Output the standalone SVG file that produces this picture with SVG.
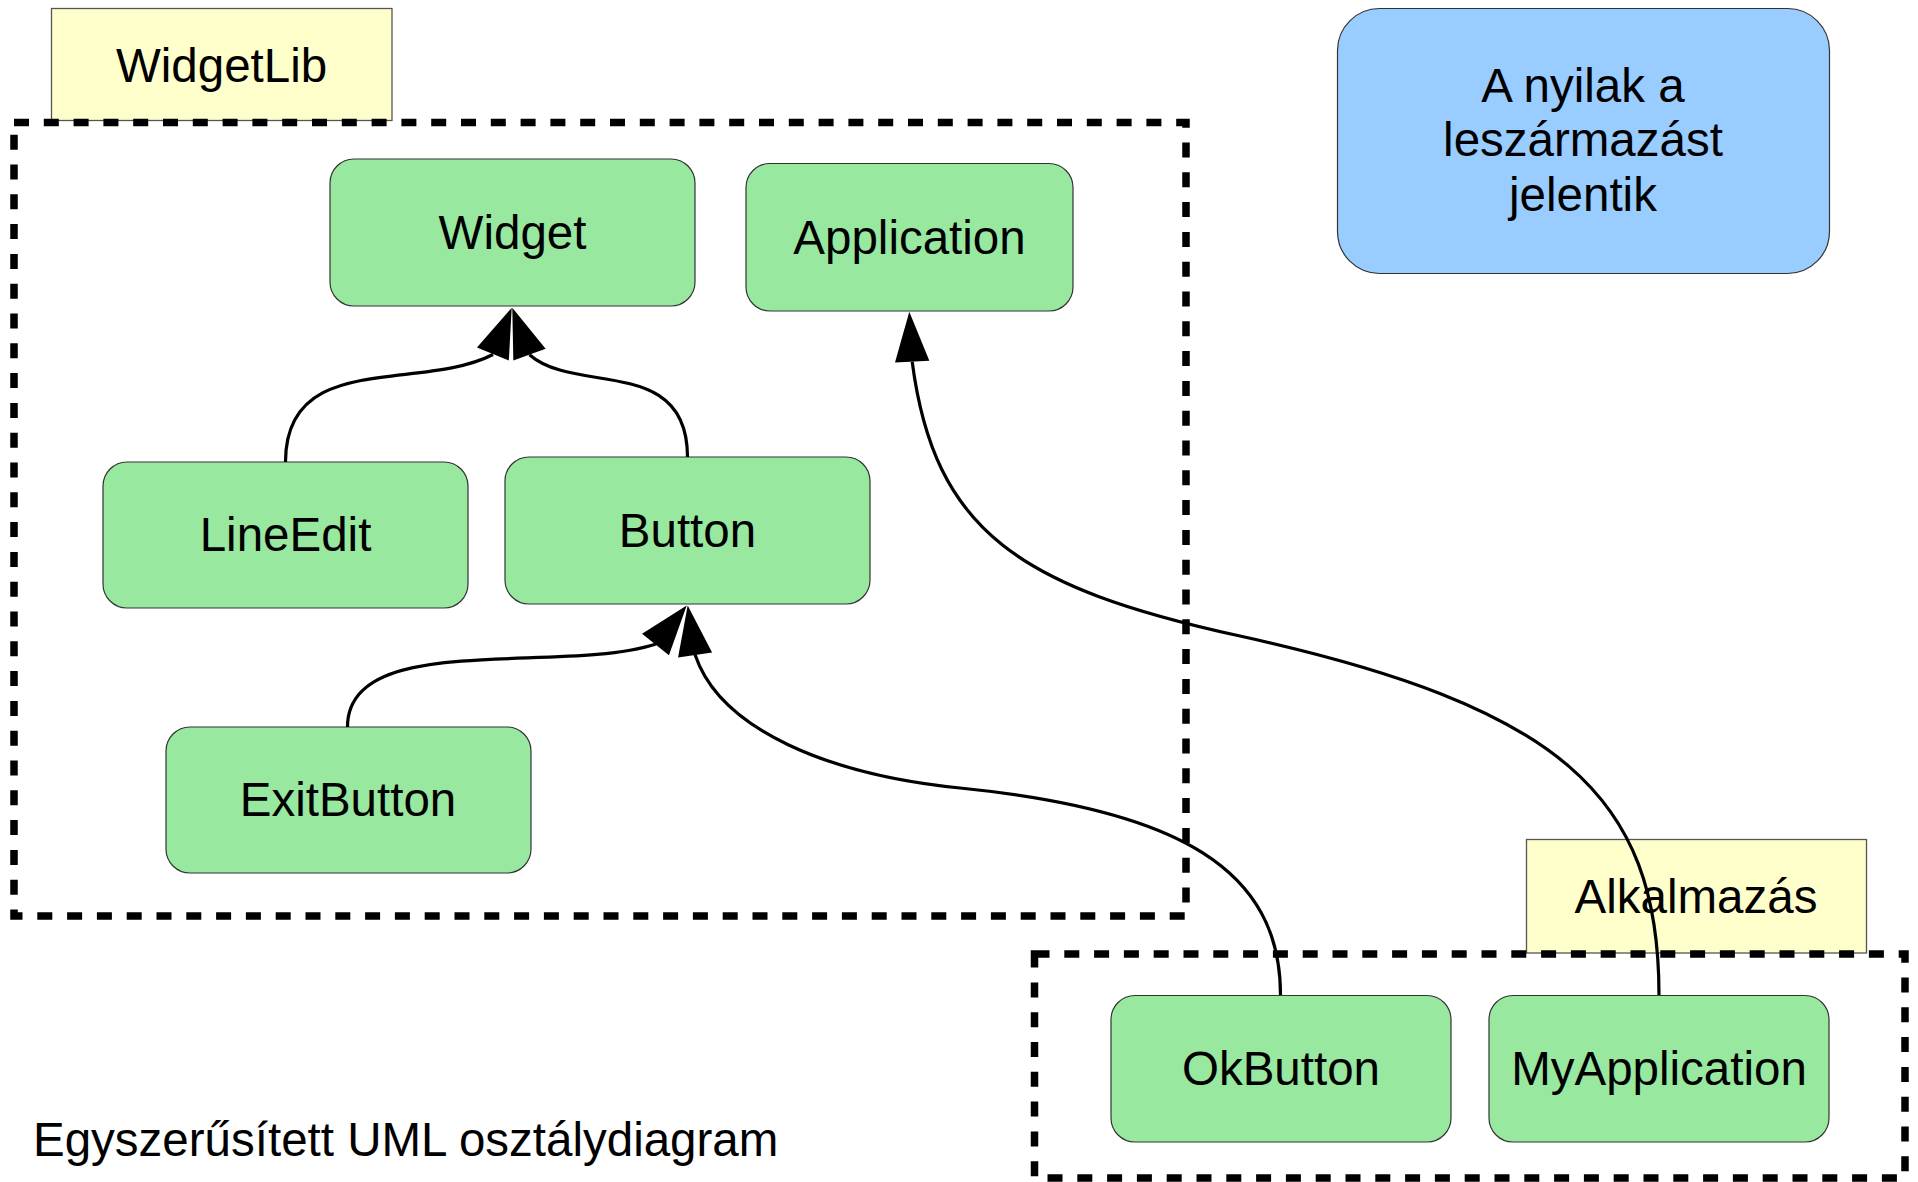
<svg xmlns="http://www.w3.org/2000/svg" xmlns:xlink="http://www.w3.org/1999/xlink" width="1918" height="1182" viewBox="0 0 1918 1182">
  <style>
    text { font-family: "Liberation Sans", Arial, sans-serif; font-size: 47.5px; fill: #000; }
    .mid { text-anchor: middle; }
    .cls { fill: #98e8a0; stroke: #333; stroke-width: 1.2; }
    .pkg { fill: #ffffcc; stroke: #555; stroke-width: 1.3; }
    .note { fill: #99ccff; stroke: #333; stroke-width: 1.2; }
    .frame { fill: none; stroke: #000; stroke-width: 7.5; stroke-dasharray: 15 14.8; }
    .edge { fill: none; stroke: #000; stroke-width: 3.2; }
    .head { fill: #000; stroke: none; }
  </style>
  <defs>
    <!-- filled generalization arrowhead, tip at origin, pointing up -->
    <path id="head" class="head" d="M0 0 L-17.2 50 L17.2 50 Z"/>
  </defs>

  <rect width="1918" height="1182" fill="#fff"/>

  <!-- package tabs -->
  <g id="pkg-widgetlib-label">
    <rect class="pkg" x="51.5" y="8.5" width="340.5" height="112"/>
    <text class="mid" x="221.6" y="81.7">WidgetLib</text>
  </g>
  <g id="pkg-alkalmazas-label">
    <rect class="pkg" x="1526.5" y="839.5" width="340" height="113.5"/>
    <text class="mid" x="1696" y="912.5">Alkalmazás</text>
  </g>

  <!-- package frames -->
  <g id="pkg-widgetlib">
    <rect class="frame" x="14" y="122.5" width="1172" height="793.5"/>
  </g>
  <g id="pkg-alkalmazas">
    <rect class="frame" x="1034.5" y="954" width="870.5" height="224"/>
  </g>

  <!-- note -->
  <g id="note">
    <rect class="note" x="1337.5" y="8.5" width="492" height="265" rx="42" ry="42"/>
    <text class="mid" x="1583" y="101.7">A nyilak a</text>
    <text class="mid" x="1583" y="156">leszármazást</text>
    <text class="mid" x="1583" y="210.7">jelentik</text>
  </g>

  <!-- classes -->
  <g id="widget">
    <rect class="cls" x="330" y="159" width="365" height="147" rx="24" ry="24"/>
    <text class="mid" x="512.5" y="249">Widget</text>
  </g>
  <g id="application">
    <rect class="cls" x="746" y="163.5" width="327" height="147.5" rx="24" ry="24"/>
    <text class="mid" x="909.5" y="254">Application</text>
  </g>
  <g id="lineedit">
    <rect class="cls" x="103" y="462" width="365" height="146" rx="24" ry="24"/>
    <text class="mid" x="285.5" y="551">LineEdit</text>
  </g>
  <g id="button">
    <rect class="cls" x="505" y="457" width="365" height="147" rx="24" ry="24"/>
    <text class="mid" x="687.5" y="547">Button</text>
  </g>
  <g id="exitbutton">
    <rect class="cls" x="166" y="727" width="365" height="146" rx="24" ry="24"/>
    <text class="mid" x="348" y="816">ExitButton</text>
  </g>
  <g id="okbutton">
    <rect class="cls" x="1111" y="995.5" width="340" height="146.5" rx="24" ry="24"/>
    <text class="mid" x="1281" y="1085">OkButton</text>
  </g>
  <g id="myapplication">
    <rect class="cls" x="1489" y="995.5" width="340" height="146.5" rx="24" ry="24"/>
    <text class="mid" x="1659" y="1085">MyApplication</text>
  </g>

  <!-- inheritance connectors -->
  <g id="connectors">
    <path class="edge" d="M285.5 462 C285.5 350 420 392 493 354.5"/>
    <use xlink:href="#head" href="#head" transform="translate(511.7 307.7) rotate(22.1)"/>

    <path class="edge" d="M687.5 457 C687.5 355 575 395 529.5 354.7"/>
    <use xlink:href="#head" href="#head" transform="translate(512.3 307.7) rotate(-20.1)"/>

    <path class="edge" d="M347.5 727 C347.5 630 560 675 656 644"/>
    <use xlink:href="#head" href="#head" transform="translate(686.7 605.5) rotate(38.6)"/>

    <path class="edge" d="M1280.5 995 C1280.5 870 1180 810 960 788 C830 775 720 730 695 654.5"/>
    <use xlink:href="#head" href="#head" transform="translate(687.7 605.5) rotate(-8.5)"/>

    <path class="edge" d="M1659 995 C1659 795 1560 706.4 1240 636 C1020 587.6 934.3 531.8 912.2 361.8"/>
    <use xlink:href="#head" href="#head" transform="translate(909.3 311.7) rotate(-3.3)"/>
  </g>

  <text id="caption" x="33" y="1156">Egyszerűsített UML osztálydiagram</text>
</svg>
